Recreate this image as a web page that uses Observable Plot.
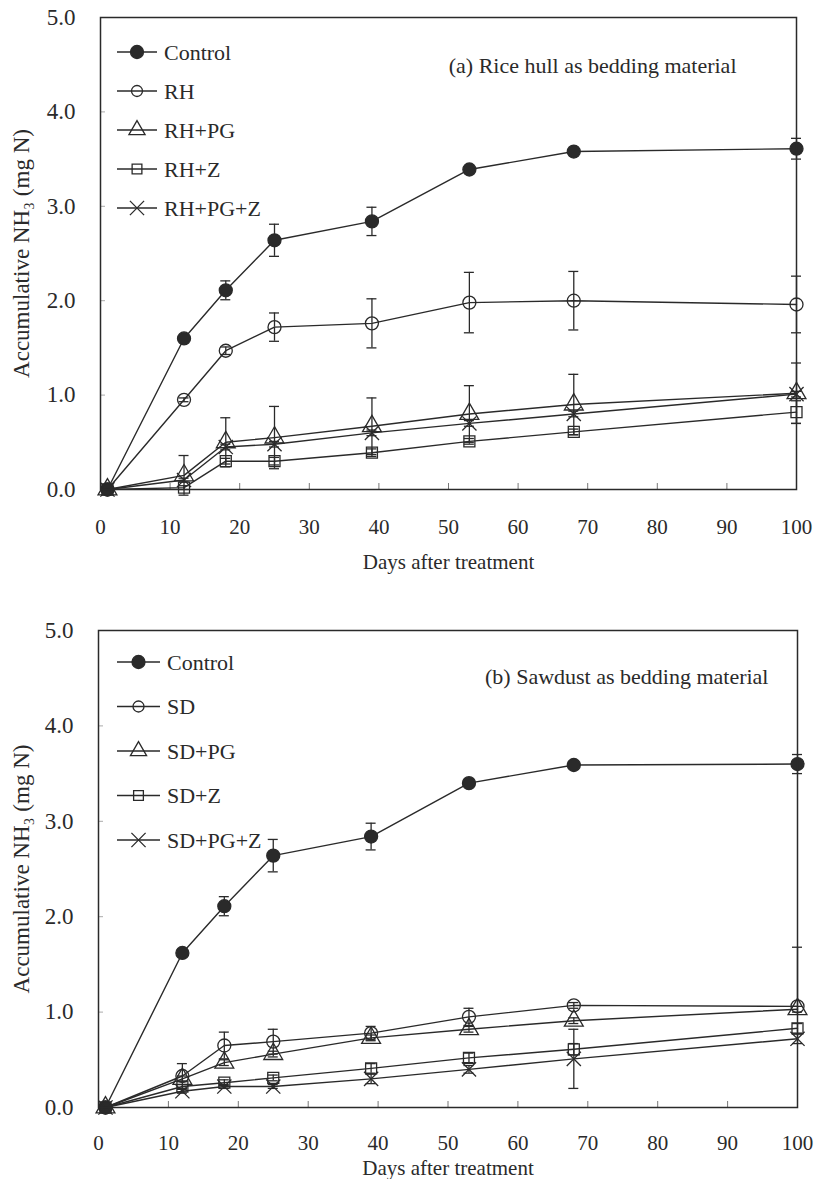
<!DOCTYPE html>
<html><head><meta charset="utf-8">
<script src="https://cdn.jsdelivr.net/npm/d3@7"></script>
<script src="https://cdn.jsdelivr.net/npm/@observablehq/plot@0.6"></script>
<style>
body{margin:0;background:#fff;}
#a,#b{width:818px;}
</style></head><body>
<div id="a"></div>
<div id="b"></div>
<script>
// ---- data ----
const days = [1, 12, 18, 25, 39, 53, 68, 100];
const xTickValues = [0, 10, 20, 30, 40, 50, 60, 70, 80, 90, 100];
const yTickValues = [0, 1, 2, 3, 4, 5];

const namesA = ["Control", "RH", "RH+PG", "RH+Z", "RH+PG+Z"];
const controlA    = [0, 1.60, 2.11, 2.64, 2.84, 3.39, 3.58, 3.61];
const controlAErr = [0, 0.03, 0.10, 0.17, 0.15, 0.03, 0.03, 0.11];
const rh          = [0, 0.95, 1.47, 1.72, 1.76, 1.98, 2.00, 1.96];
const rhErr       = [0, 0.02, 0.04, 0.15, 0.26, 0.32, 0.31, 0.30];
const rhPg        = [0, 0.15, 0.50, 0.55, 0.67, 0.80, 0.90, 1.02];
const rhPgErr     = [0, 0.21, 0.26, 0.33, 0.30, 0.30, 0.32, 0.32];
const rhZ         = [0, 0.02, 0.30, 0.30, 0.39, 0.51, 0.61, 0.82];
const rhZErr      = [0, 0.02, 0.03, 0.04, 0.04, 0.03, 0.03, 0.12];
const rhPgZ       = [0, 0.10, 0.45, 0.48, 0.60, 0.70, 0.80, 1.01];
const rhPgZErr    = [0, 0.02, 0.03, 0.03, 0.03, 0.03, 0.03, 0.03];

const namesB = ["Control", "SD", "SD+PG", "SD+Z", "SD+PG+Z"];
const controlB    = [0, 1.62, 2.11, 2.64, 2.84, 3.40, 3.59, 3.60];
const controlBErr = [0, 0.03, 0.10, 0.17, 0.14, 0.03, 0.03, 0.10];
const sd          = [0, 0.33, 0.65, 0.69, 0.78, 0.95, 1.07, 1.06];
const sdErr       = [0, 0.13, 0.14, 0.13, 0.07, 0.09, 0.03, 0.62];
const sdErrLow    = [0, 0.13, 0.14, 0.13, 0.07, 0.09, 0.03, 0.00];
const sdPg        = [0, 0.30, 0.47, 0.56, 0.73, 0.82, 0.91, 1.03];
const sdPgErr     = [0, 0.03, 0.03, 0.03, 0.03, 0.03, 0.03, 0.03];
const sdZ         = [0, 0.22, 0.26, 0.31, 0.41, 0.52, 0.61, 0.83];
const sdZErr      = [0, 0.02, 0.03, 0.03, 0.05, 0.05, 0.06, 0.05];
const sdPgZ       = [0, 0.17, 0.22, 0.22, 0.30, 0.40, 0.51, 0.72];
const sdPgZErr    = [0, 0.02, 0.02, 0.02, 0.05, 0.04, 0.31, 0.05];

const noteA = "(a) Rice hull as bedding material";
const noteB = "(b) Sawdust as bedding material";
const xLabel = "Days after treatment";
const yLabel = "Accumulative NH\u2083 (mg N)";

// ---- styles ----
const ink = "#2a2a2a";
const font = "'Liberation Serif','Times New Roman',serif";
const symbolNames = ["circle", "circle", "triangle", "square", "times"];
const d3Symbols = [d3.symbolCircle, d3.symbolCircle, d3.symbolTriangle, d3.symbolSquare, d3.symbolTimes];
const radii = [6.5, 6.5, 7, 6.2, 6.5];
const legRadii = [6.5, 5.5, 6, 5.5, 6.5];

function panel(el, names, vals, errs, errsLow, note, cfg) {
  const rows = [];
  names.forEach((name, s) => days.forEach((d, i) =>
    rows.push({series: name, s, day: d, v: vals[s][i], e: errs[s][i],
               el: (errsLow[s] || errs[s])[i]})));
  const upRows = rows.filter(r => r.e > 0);
  const lowRows = rows.filter(r => r.el > 0);
  const plot = Plot.plot({
    width: 818, height: cfg.height,
    marginTop: cfg.mt, marginBottom: cfg.mb, marginLeft: cfg.ml, marginRight: cfg.mr,
    x: {domain: [0, 100]},
    y: {domain: [0, 5]},
    style: {fontFamily: font, fontSize: "21px", color: ink, background: "white", overflow: "visible"},
    marks: [
      Plot.axisY({ticks: yTickValues, tickFormat: d3.format(".1f"), tickSize: 0, tickPadding: 25,
        label: yLabel, labelAnchor: "center", labelArrow: "none", labelOffset: cfg.ylo, fontSize: 23}),
      Plot.axisY({ticks: [1, 2, 3, 4], tickSize: 5, dx: 5, tickFormat: () => "", label: null, stroke: "#aaa"}),
      Plot.axisX({ticks: xTickValues, tickSize: 0, tickPadding: cfg.xtp,
        label: xLabel, labelAnchor: "center", labelArrow: "none", labelOffset: cfg.xlo, fontSize: 21}),
      Plot.axisX({ticks: xTickValues.slice(1, -1), tickSize: 6, dy: -6, tickFormat: () => "", label: null, stroke: "#777"}),
      Plot.ruleX(upRows, {x: "day", y1: "v", y2: d => d.v + d.e, stroke: ink, strokeWidth: 1.3}),
      Plot.ruleX(lowRows, {x: "day", y1: d => d.v - d.el, y2: "v", stroke: ink, strokeWidth: 1.3}),
      Plot.ruleY(upRows, {y: d => d.v + d.e, x1: "day", x2: "day", insetLeft: -5, insetRight: -5, stroke: ink, strokeWidth: 1.3}),
      Plot.ruleY(lowRows, {y: d => d.v - d.el, x1: "day", x2: "day", insetLeft: -5, insetRight: -5, stroke: ink, strokeWidth: 1.3}),
      Plot.line(rows, {x: "day", y: "v", z: "series", stroke: ink, strokeWidth: 1.4}),
      ...names.map((n, s) => Plot.dot(rows.filter(r => r.s === s), {
        x: "day", y: "v", symbol: symbolNames[s], r: radii[s],
        fill: s === 0 ? ink : "none", stroke: ink, strokeWidth: 1.3})),
      Plot.frame({stroke: ink, strokeWidth: 1.5}),
      Plot.text([note], {frameAnchor: "top-right", dx: cfg.ndx, dy: cfg.ndy, textAnchor: "end",
        fontSize: 22, fill: ink})
    ]
  });
  // legend
  const g = d3.select(plot).append("g").attr("font-family", font).attr("font-size", 22)
    .attr("fill", ink).attr("text-anchor", "start");
  names.forEach((name, s) => {
    const y = cfg.legY0 + s * cfg.legDy;
    g.append("line").attr("x1", cfg.legX1).attr("x2", cfg.legX2).attr("y1", y).attr("y2", y)
      .attr("stroke", ink).attr("stroke-width", 1.4);
    g.append("path").attr("transform", `translate(${(cfg.legX1 + cfg.legX2) / 2},${y})`)
      .attr("d", d3.symbol(d3Symbols[s], Math.PI * legRadii[s] * legRadii[s])())
      .attr("fill", s === 0 ? ink : "none").attr("stroke", ink).attr("stroke-width", 1.3);
    g.append("text").attr("x", cfg.legX2 + 7).attr("y", y).attr("dy", "0.35em")
      .attr("text-anchor", "start").text(name);
  });
  document.getElementById(el).append(plot);
}

panel("a", namesA, [controlA, rh, rhPg, rhZ, rhPgZ], [controlAErr, rhErr, rhPgErr, rhZErr, rhPgZErr], [], noteA,
  {height: 590, mt: 17, mb: 101, ml: 100, mr: 22, ylo: 88, xtp: 30, xlo: 79, ndx: -60, ndy: 40,
   legY0: 52, legDy: 39, legX1: 117, legX2: 157});
panel("b", namesB, [controlB, sd, sdPg, sdZ, sdPgZ], [controlBErr, sdErr, sdPgErr, sdZErr, sdPgZErr],
  [null, sdErrLow], noteB,
  {height: 589, mt: 40, mb: 72, ml: 98, mr: 21, ylo: 86, xtp: 28, xlo: 67, ndx: -29, ndy: 38,
   legY0: 72, legDy: 44.5, legX1: 117, legX2: 160});
</script>
</body></html>
